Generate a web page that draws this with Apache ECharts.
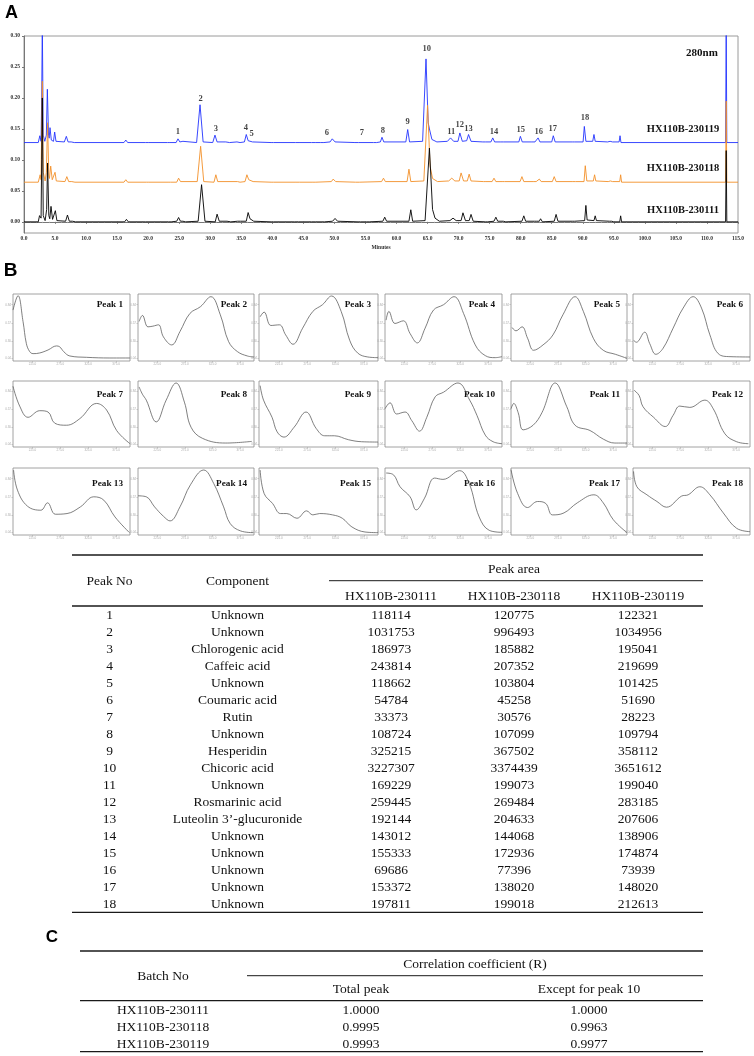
<!DOCTYPE html>
<html><head><meta charset="utf-8">
<script src="https://cdn.jsdelivr.net/npm/echarts@6/dist/echarts.min.js"></script>
<style>html,body{margin:0;padding:0;background:#fff;}#c{width:754px;height:1056px;}</style>
</head><body><div id="c"></div>
<script>
// ---------- Panel A: chromatogram traces [minutes, AU] ----------
const blueTrace = [[0,0.128],[2.3,0.128],[2.55,0.139],[2.75,0.13],[2.85,0.2],[2.95,0.32],[3.1,0.14],[3.35,0.13],[3.6,0.14],[3.76,0.214],[3.95,0.14],[4.05,0.135],[4.19,0.152],[4.4,0.132],[4.75,0.13],[4.94,0.145],[5.15,0.13],[6.5,0.129],[6.82,0.138],[7.1,0.129],[7.6,0.129],[7.84,0.132],[8.1,0.128],[16.1,0.128],[16.4,0.132],[16.7,0.128],[19.6,0.128],[19.8,0.130],[20.0,0.128],[23.1,0.128],[23.3,0.130],[23.5,0.128],[24.5,0.128],[24.8,0.134],[25.1,0.129],[25.6,0.130],[25.9,0.128],[27.8,0.128],[28.35,0.189],[28.85,0.129],[30.4,0.128],[30.76,0.140],[31.1,0.129],[32.5,0.129],[32.8,0.130],[33.1,0.128],[34.3,0.129],[34.5,0.130],[34.8,0.128],[35.5,0.129],[35.8,0.141],[36.1,0.131],[36.4,0.134],[36.8,0.129],[39.8,0.128],[40.0,0.130],[40.2,0.128],[43.7,0.128],[44.0,0.131],[44.3,0.128],[46.3,0.128],[46.6,0.131],[46.9,0.128],[47.8,0.128],[48.0,0.130],[48.3,0.128],[49.3,0.129],[49.65,0.134],[50.1,0.129],[53.3,0.128],[53.6,0.131],[53.9,0.128],[56.3,0.128],[56.5,0.131],[56.8,0.128],[57.4,0.129],[57.66,0.1365],[57.95,0.129],[61.5,0.129],[61.8,0.149],[62.1,0.129],[64.2,0.13],[64.75,0.263],[65.1,0.16],[65.3,0.15],[65.7,0.133],[66.5,0.129],[68.2,0.130],[68.7,0.1355],[69.2,0.130],[69.9,0.130],[70.2,0.1435],[70.6,0.130],[71.3,0.131],[71.6,0.141],[72.0,0.130],[73.9,0.129],[74.1,0.131],[74.3,0.129],[75.2,0.129],[75.5,0.1355],[75.8,0.129],[76.8,0.129],[77.0,0.131],[77.2,0.129],[79.7,0.129],[79.95,0.138],[80.25,0.129],[81.8,0.129],[82.0,0.131],[82.3,0.129],[82.6,0.129],[82.8,0.1355],[83.1,0.129],[85.0,0.129],[85.25,0.139],[85.55,0.129],[88.3,0.129],[88.5,0.131],[88.7,0.129],[90.05,0.129],[90.25,0.154],[90.5,0.13],[91.6,0.13],[91.8,0.141],[92.0,0.13],[94.0,0.129],[94.2,0.131],[94.4,0.13],[94.6,0.132],[94.8,0.129],[95.85,0.129],[96.0,0.139],[96.15,0.128],[113.0,0.128],[113.1,0.32],[113.2,0.128],[115,0.128]];
const orangeTrace = [[0,0.064],[2.3,0.064],[2.6,0.076],[2.75,0.068],[2.85,0.15],[2.95,0.227],[3.1,0.08],[3.4,0.066],[3.6,0.08],[3.8,0.16],[4.0,0.075],[4.1,0.07],[4.3,0.090],[4.55,0.068],[4.8,0.066],[5.0,0.080],[5.2,0.066],[6.6,0.065],[6.9,0.073],[7.2,0.065],[7.7,0.065],[7.9,0.068],[8.2,0.064],[16.1,0.064],[16.4,0.068],[16.7,0.064],[19.7,0.064],[19.9,0.066],[20.1,0.064],[23.2,0.064],[23.4,0.066],[23.6,0.064],[24.6,0.064],[24.9,0.0705],[25.2,0.065],[27.9,0.065],[28.45,0.122],[28.95,0.065],[30.6,0.064],[30.9,0.076],[31.2,0.065],[34.4,0.065],[34.6,0.067],[34.8,0.064],[35.6,0.065],[35.9,0.076],[36.2,0.068],[36.5,0.069],[36.9,0.065],[39.8,0.064],[40.0,0.066],[40.2,0.064],[43.8,0.064],[44.1,0.067],[44.4,0.064],[46.4,0.064],[46.7,0.066],[47.0,0.064],[49.5,0.065],[49.8,0.069],[50.2,0.065],[53.4,0.064],[53.7,0.066],[54.0,0.064],[57.6,0.065],[57.9,0.0705],[58.2,0.065],[61.7,0.065],[62.0,0.085],[62.3,0.065],[64.4,0.066],[65.0,0.188],[65.4,0.09],[65.8,0.07],[66.6,0.065],[68.4,0.066],[68.9,0.0705],[69.4,0.066],[70.1,0.066],[70.4,0.079],[70.8,0.066],[71.4,0.066],[71.7,0.077],[72.0,0.066],[74.0,0.065],[74.2,0.066],[74.4,0.065],[75.4,0.065],[75.7,0.0705],[76.0,0.065],[77.0,0.065],[77.2,0.066],[77.4,0.065],[79.9,0.065],[80.2,0.073],[80.5,0.065],[82.0,0.065],[82.2,0.067],[82.5,0.065],[82.8,0.065],[83.0,0.069],[83.3,0.065],[85.1,0.065],[85.4,0.073],[85.7,0.065],[88.4,0.065],[88.6,0.066],[88.8,0.065],[90.2,0.065],[90.4,0.0906],[90.65,0.066],[91.7,0.066],[91.9,0.076],[92.1,0.066],[94.1,0.065],[94.3,0.067],[94.45,0.066],[94.6,0.067],[94.8,0.065],[95.95,0.065],[96.1,0.076],[96.25,0.064],[113.0,0.064],[113.1,0.195],[113.2,0.064],[115,0.064]];
const blackTrace = [[0,0],[2.3,0],[2.5,0.01],[2.75,0.006],[2.85,0.1],[2.95,0.200],[3.1,0.01],[3.4,0.002],[3.65,0.02],[3.8,0.095],[4.0,0.01],[4.15,0.005],[4.35,0.025],[4.6,0.004],[4.85,0.004],[5.05,0.018],[5.3,0.002],[6.7,0.001],[7.0,0.011],[7.3,0.001],[7.8,0.001],[8.0,0.004],[8.3,0],[16.2,0],[16.5,0.004],[16.8,0],[19.6,0],[19.8,0.002],[20.0,0],[23.3,0],[23.5,0.002],[23.7,0],[24.6,0.001],[24.9,0.007],[25.2,0.001],[25.6,0.001],[25.8,0.003],[26.0,0],[28.05,0.001],[28.6,0.060],[29.15,0.001],[30.8,0],[31.1,0.0124],[31.45,0.001],[32.7,0.001],[33.0,0.002],[33.3,0],[34.4,0.001],[34.6,0.003],[34.9,0.001],[35.8,0.001],[36.1,0.015],[36.4,0.005],[36.6,0.006],[37.0,0.001],[39.8,0],[40.0,0.002],[40.2,0],[43.6,0],[43.9,0.003],[44.2,0],[46.3,0],[46.6,0.003],[46.9,0],[48.0,0],[48.2,0.003],[48.4,0],[49.7,0.001],[50.1,0.0055],[50.5,0.001],[53.8,0],[54.0,0.002],[54.2,0],[55.2,0],[55.4,0.003],[55.6,0],[57.8,0.001],[58.1,0.0075],[58.4,0.001],[62.0,0.001],[62.3,0.0195],[62.6,0.001],[64.6,0.002],[65.3,0.119],[65.8,0.02],[66.2,0.006],[66.9,0.001],[68.6,0.002],[69.1,0.006],[69.6,0.002],[70.4,0.002],[70.7,0.0146],[71.1,0.002],[71.7,0.002],[72.0,0.012],[72.35,0.001],[74.3,0],[74.5,0.003],[74.7,0],[75.7,0.001],[76.0,0.0075],[76.3,0.001],[77.2,0.001],[77.4,0.002],[77.6,0],[80.2,0.001],[80.5,0.0097],[80.8,0.001],[82.2,0.001],[82.4,0.004],[82.6,0.001],[83.0,0.001],[83.2,0.005],[83.5,0],[85.4,0.001],[85.7,0.012],[86.0,0.001],[88.3,0.001],[88.5,0.003],[88.7,0.001],[90.3,0.002],[90.5,0.0265],[90.7,0.003],[91.8,0.002],[92.0,0.0097],[92.2,0.002],[94.3,0.001],[94.5,0.003],[94.65,0.001],[94.8,0.002],[95.0,0],[95.95,0],[96.1,0.0097],[96.25,0],[113.0,0],[113.1,0.115],[113.2,0],[115,0]];
const peakLabelNames = ['1','2','3','4','5','6','7','8','9','10','11','12','13','14','15','16','17','18'];
const peakLabelTimes = [24.8,28.45,30.9,35.75,36.65,48.8,54.4,57.8,61.8,64.85,68.8,70.2,71.6,75.7,80.0,82.9,85.15,90.35];
const peakLabelAU = [0.146,0.199,0.151,0.152,0.142,0.144,0.144,0.147,0.161,0.280,0.145,0.157,0.150,0.146,0.149,0.145,0.151,0.168];
const yTicksA = [0,0.05,0.10,0.15,0.20,0.25,0.30];
const sampleNames = ['HX110B-230119','HX110B-230118','HX110B-230111'];

// ---------- Panel B: UV spectra [nm, relative absorbance] ----------
const specP1 = [[190,0.76],[199,0.975],[208,0.59],[214,0.26],[220,0.14],[226,0.11],[238,0.12],[253,0.165],[268,0.225],[274,0.21],[281,0.14],[292,0.075],[322,0.055],[364,0.045],[400,0.045]];
const specP2 = [[192,0.59],[198,0.68],[208,0.51],[217,0.52],[227,0.54],[236,0.36],[251,0.24],[266,0.44],[284,0.71],[303,0.81],[322,0.96],[339,0.69],[354,0.29],[370,0.14],[388,0.075],[400,0.06]];
const specP3 = [[192,0.66],[199,0.73],[211,0.53],[226,0.54],[237,0.39],[250,0.25],[267,0.49],[285,0.74],[302,0.84],[318,0.97],[335,0.74],[350,0.31],[364,0.12],[382,0.06],[400,0.05]];
const specP4 = [[192,0.61],[197,0.74],[208,0.56],[223,0.6],[235,0.41],[248,0.27],[262,0.49],[277,0.76],[295,0.84],[314,0.96],[331,0.71],[352,0.24],[370,0.08],[388,0.05],[400,0.065]];
const specP5 = [[192,0.5],[199,0.45],[210,0.51],[220,0.34],[231,0.16],[248,0.24],[266,0.39],[284,0.69],[306,0.96],[321,0.74],[339,0.34],[357,0.16],[379,0.1],[400,0.04]];
const specP6 = [[191,0.31],[196,0.28],[211,0.43],[220,0.26],[231,0.1],[244,0.19],[262,0.49],[280,0.79],[298,0.96],[313,0.79],[328,0.39],[343,0.11],[364,0.065],[400,0.06]];
const specP7 = [[190,0.92],[202,0.62],[217,0.45],[238,0.55],[253,0.53],[265,0.36],[286,0.33],[310,0.43],[340,0.66],[358,0.56],[376,0.25],[400,0.05]];
const specP8 = [[192,0.91],[198,0.8],[205,0.71],[223,0.38],[241,0.71],[259,0.97],[274,0.68],[286,0.3],[307,0.13],[349,0.06],[396,0.085]];
const specP9 = [[192,0.93],[198,0.71],[213,0.45],[222,0.23],[234,0.15],[252,0.3],[273,0.53],[291,0.28],[306,0.17],[323,0.17],[348,0.11],[371,0.08],[400,0.075]];
const specP10 = [[190,0.58],[199,0.67],[211,0.5],[226,0.53],[238,0.4],[252,0.24],[265,0.45],[280,0.76],[295,0.83],[321,0.97],[342,0.71],[355,0.48],[370,0.18],[384,0.08],[400,0.05]];
const specP11 = [[190,0.58],[195,0.66],[203,0.52],[212,0.26],[230,0.33],[246,0.52],[270,0.97],[291,0.61],[306,0.33],[333,0.25],[357,0.12],[378,0.06],[400,0.06]];
const specP12 = [[192,0.86],[201,0.78],[208,0.61],[227,0.45],[248,0.31],[262,0.48],[274,0.62],[292,0.6],[319,0.71],[334,0.58],[355,0.2],[376,0.08],[397,0.05]];
const specP13 = [[191,0.97],[198,0.67],[216,0.43],[240,0.37],[252,0.48],[266,0.31],[287,0.32],[311,0.42],[335,0.57],[353,0.52],[373,0.27],[399,0.035]];
const specP14 = [[190,0.585],[205,0.57],[220,0.42],[236,0.28],[248,0.21],[266,0.42],[285,0.75],[309,0.97],[327,0.77],[345,0.42],[357,0.17],[376,0.06],[399,0.035]];
const specP15 = [[192,0.97],[199,0.62],[214,0.47],[228,0.32],[239,0.32],[257,0.25],[274,0.36],[285,0.3],[297,0.32],[320,0.3],[337,0.25],[354,0.12],[377,0.045],[400,0.035]];
const specP16 = [[192,0.925],[205,0.9],[217,0.72],[235,0.57],[246,0.375],[261,0.55],[279,0.85],[294,0.83],[324,0.96],[341,0.77],[359,0.27],[377,0.07],[400,0.04]];
const specP17 = [[190,0.975],[202,0.62],[220,0.41],[238,0.5],[253,0.47],[265,0.3],[286,0.33],[310,0.48],[340,0.6],[357,0.48],[375,0.23],[400,0.035]];
const specP18 = [[191,0.95],[197,0.72],[215,0.6],[233,0.5],[250,0.415],[277,0.58],[289,0.6],[310,0.72],[328,0.6],[352,0.33],[376,0.1],[400,0.05]];
const specTitles = ['Peak 1','Peak 2','Peak 3','Peak 4','Peak 5','Peak 6','Peak 7','Peak 8','Peak 9','Peak 10','Peak 11','Peak 12','Peak 13','Peak 14','Peak 15','Peak 16','Peak 17','Peak 18'];
const specXTicks = [225,275,325,375];
const specYTicks = [0.04,0.30,0.57,0.84];

// ---------- Table (peak areas) ----------
const peakNos = ['1','2','3','4','5','6','7','8','9','10','11','12','13','14','15','16','17','18'];
const components = ['Unknown','Unknown','Chlorogenic acid','Caffeic acid','Unknown','Coumaric acid','Rutin','Unknown','Hesperidin','Chicoric acid','Unknown','Rosmarinic acid','Luteolin 3’-glucuronide','Unknown','Unknown','Unknown','Unknown','Unknown'];
const area230111 = [118114,1031753,186973,243814,118662,54784,33373,108724,325215,3227307,169229,259445,192144,143012,155333,69686,153372,197811];
const area230118 = [120775,996493,185882,207352,103804,45258,30576,107099,367502,3374439,199073,269484,204633,144068,172936,77396,138020,199018];
const area230119 = [122321,1034956,195041,219699,101425,51690,28223,109794,358112,3651612,199040,283185,207606,138906,174874,73939,148020,212613];
// ---------- Panel C ----------
const batchNos = ['HX110B-230111','HX110B-230118','HX110B-230119'];
const rTotal = ['1.0000','0.9995','0.9993'];
const rExcept10 = ['1.0000','0.9963','0.9977'];

// ================= build =================
const SERIF = '"Liberation Serif","Times New Roman",serif';
const SANS = '"Liberation Sans",Arial,sans-serif';
const chart = echarts.init(document.getElementById('c'), null, {renderer:'canvas'});

const grids = [{left:24, top:36, width:714, height:197, show:true, borderColor:'#9a9a9a', borderWidth:1, outerBoundsMode:'none'}];
const xAxes = [{
  gridIndex:0, type:'value', min:0, max:115, interval:5,
  axisLine:{show:true, lineStyle:{color:'#777', width:1}},
  axisTick:{show:true, length:2, lineStyle:{color:'#777'}},
  minorTick:{show:true, splitNumber:5, length:1.2, lineStyle:{color:'#999'}},
  splitLine:{show:false},
  axisLabel:{fontSize:5.5, fontWeight:'bold', fontFamily:SERIF, color:'#333', margin:3, formatter:v=>v.toFixed(1)},
  name:'Minutes', nameLocation:'middle', nameGap:12,
  nameTextStyle:{fontSize:5.5, fontWeight:'bold', fontFamily:SERIF, color:'#333'}
}];
const yAxes = [{
  gridIndex:0, type:'value', min:-0.018, max:0.30,
  axisLine:{show:true, lineStyle:{color:'#777', width:1}},
  axisTick:{show:true, length:2, customValues:yTicksA, lineStyle:{color:'#777'}},
  splitLine:{show:false},
  axisLabel:{customValues:yTicksA, fontSize:5.5, fontWeight:'bold', fontFamily:SERIF, color:'#333', margin:4, formatter:v=>v.toFixed(2)},
  name:'AU', nameLocation:'middle', nameGap:17, nameRotate:90,
  nameTextStyle:{fontSize:5.5, fontWeight:'bold', fontFamily:SERIF, color:'#333'}
}];
const series = [
  {type:'line', name:sampleNames[0], xAxisIndex:0, yAxisIndex:0, data:blueTrace, showSymbol:false, symbol:'none', lineStyle:{color:'#2233ff', width:0.9}, z:2},
  {type:'line', name:sampleNames[1], xAxisIndex:0, yAxisIndex:0, data:orangeTrace, showSymbol:false, symbol:'none', lineStyle:{color:'#f39028', width:0.9}, z:3},
  {type:'line', name:sampleNames[2], xAxisIndex:0, yAxisIndex:0, data:blackTrace, showSymbol:false, symbol:'none', lineStyle:{color:'#000000', width:0.9}, z:4},
  {type:'scatter', xAxisIndex:0, yAxisIndex:0, symbolSize:0, silent:true, z:5,
   data:peakLabelTimes.map((t,i)=>({value:[t, peakLabelAU[i]], name:peakLabelNames[i]})),
   label:{show:true, position:'inside', formatter:p=>p.name, fontSize:8.5, fontWeight:'bold', fontFamily:SERIF, color:'#111'}}
];

const colLeft = [13,138,259,385,511,633];
const colRight = [130,254,378,502,627,750];
const rowTop = [294,381,468];
const rowBottom = [361,447,535];
const rowLabelY = [305,395,484];
const specList = [specP1,specP2,specP3,specP4,specP5,specP6,specP7,specP8,specP9,specP10,specP11,specP12,specP13,specP14,specP15,specP16,specP17,specP18];
const graphics = [];
specList.forEach((d,i)=>{
  const r = Math.floor(i/6), c = i%6, gi = i+1;
  grids.push({left:colLeft[c], top:rowTop[r], width:colRight[c]-colLeft[c], height:rowBottom[r]-rowTop[r], show:true, borderColor:'#8a8a8a', borderWidth:0.8, outerBoundsMode:'none'});
  xAxes.push({gridIndex:gi, type:'value', min:190, max:400,
    axisLine:{show:false}, splitLine:{show:false},
    axisTick:{show:true, customValues:specXTicks, length:1.5, lineStyle:{color:'#aaa', width:0.6}},
    axisLabel:{show:true, customValues:specXTicks, fontSize:3, color:'#aaa', margin:2, formatter:v=>v.toFixed(1)}});
  yAxes.push({gridIndex:gi, type:'value', min:0, max:1,
    axisLine:{show:false}, splitLine:{show:false},
    axisTick:{show:true, customValues:specYTicks, length:1.5, lineStyle:{color:'#aaa', width:0.6}},
    axisLabel:{show:true, customValues:specYTicks, fontSize:3, color:'#aaa', margin:2, formatter:v=>v.toFixed(2)}});
  series.push({type:'line', xAxisIndex:gi, yAxisIndex:gi, data:d, smooth:0.4, showSymbol:false, symbol:'none', lineStyle:{color:'#555', width:0.75}});
  graphics.push({type:'text', x:colRight[c]-7, y:rowLabelY[r], style:{text:specTitles[i], fontSize:9.2, fontWeight:'bold', fontFamily:SERIF, fill:'#111', align:'right', verticalAlign:'middle', textAlign:'right', textVerticalAlign:'middle'}});
});

function txt(t, x, y, size, opts){
  opts = opts || {};
  graphics.push({type:'text', x:x, y:y, style:Object.assign({text:t, fontSize:size, fontFamily:SERIF, fill:'#111', align:'center', verticalAlign:'middle', textAlign:'center', textVerticalAlign:'middle'}, opts)});
}
function rule(x1, x2, y, w){
  graphics.push({type:'line', shape:{x1:x1, y1:y, x2:x2, y2:y}, style:{stroke:'#1a1a1a', lineWidth:w}});
}
// panel letters
txt('A', 11.5, 13, 18, {fontFamily:SANS, fontWeight:'bold', fill:'#000'});
txt('B', 10.5, 270.5, 19, {fontFamily:SANS, fontWeight:'bold', fill:'#000'});
txt('C', 52, 937, 17, {fontFamily:SANS, fontWeight:'bold', fill:'#000'});
// chromatogram annotations
txt('280nm', 702, 53, 11, {fontWeight:'bold'});
txt(sampleNames[0], 683, 129.5, 10.5, {fontWeight:'bold'});
txt(sampleNames[1], 683, 168.5, 10.5, {fontWeight:'bold'});
txt(sampleNames[2], 683, 210.5, 10.5, {fontWeight:'bold'});

// main table
const TL = 72, TR = 703, FS = 13.5;
const colX = [109.5, 237.5, 391, 514, 638];
rule(TL, TR, 555, 1.3);
rule(329, TR, 580.7, 1);
rule(TL, TR, 606, 1.3);
rule(TL, TR, 912.3, 1.3);
txt('Peak No', colX[0], 581.7, FS);
txt('Component', colX[1], 581.7, FS);
txt('Peak area', colX[3], 569.3, FS);
txt('HX110B-230111', colX[2], 596, FS);
txt('HX110B-230118', colX[3], 596, FS);
txt('HX110B-230119', colX[4], 596, FS);
peakNos.forEach((p,i)=>{
  const y = 615.7 + 17*i;
  txt(p, colX[0], y, FS);
  txt(components[i], colX[1], y, FS);
  txt(String(area230111[i]), colX[2], y, FS);
  txt(String(area230118[i]), colX[3], y, FS);
  txt(String(area230119[i]), colX[4], y, FS);
});
// panel C table
const CL = 80;
rule(CL, TR, 951, 1.3);
rule(247, TR, 975.7, 1);
rule(CL, TR, 1000.7, 1.3);
rule(CL, TR, 1051.7, 1.3);
txt('Correlation coefficient (R)', 475, 964.3, FS);
txt('Batch No', 163, 976.7, FS);
txt('Total peak', 361, 989.3, FS);
txt('Except for peak 10', 589, 989.3, FS);
batchNos.forEach((b,i)=>{
  const y = 1010 + 17*i;
  txt(b, 163, y, FS);
  txt(rTotal[i], 361, y, FS);
  txt(rExcept10[i], 589, y, FS);
});

chart.setOption({
  animation:false,
  backgroundColor:'#ffffff',
  grid:grids, xAxis:xAxes, yAxis:yAxes, series:series,
  graphic:{elements:graphics}
});
</script></body></html>
